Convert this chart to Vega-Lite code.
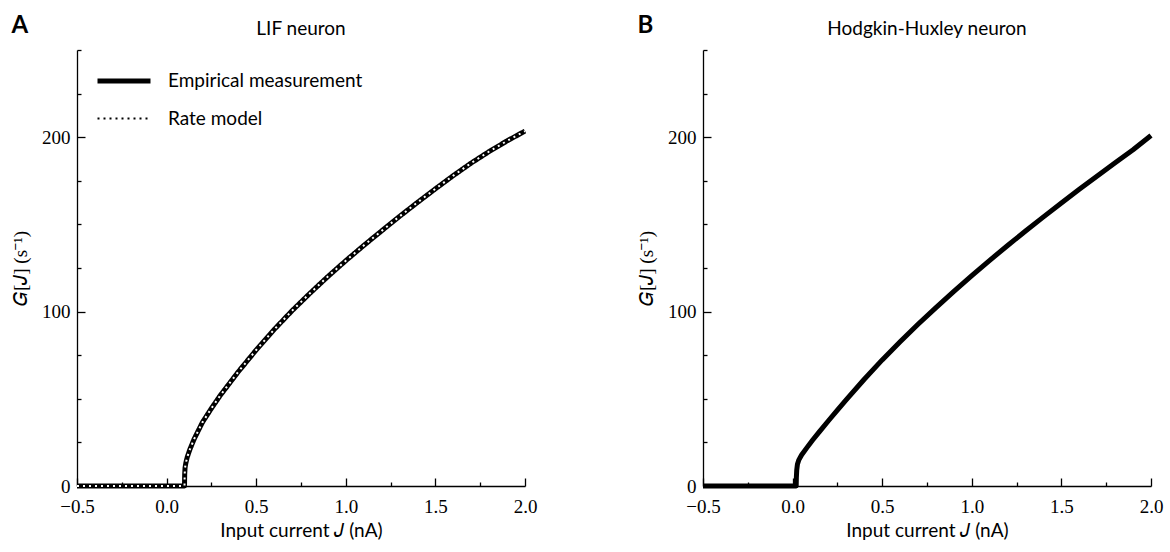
{
  "$schema": "https://vega.github.io/schema/vega-lite/v6.json",
  "background": "white",
  "padding": {"left": 11, "top": 14, "right": 2, "bottom": 2},
  "config": {
    "view": {"stroke": null},
    "axis": {
      "grid": false,
      "domainColor": "black",
      "domainWidth": 1.3,
      "tickColor": "black",
      "tickWidth": 1.3,
      "labelFont": "Liberation Serif",
      "labelFontSize": 19,
      "labelColor": "black",
      "labelFlush": false,
      "labelOverlap": false,
      "labelBound": false,
      "titleFont": "Lato",
      "titleFontSize": 19,
      "titleFontWeight": "normal",
      "titleColor": "black"
    },
    "legend": {"labelFont": "Lato", "labelFontSize": 19, "labelColor": "black", "labelLimit": 0},
    "title": {"font": "Lato", "fontSize": 19, "fontWeight": "normal", "color": "black"}
  },
  "datasets": {
    "lif": [
      {"J": -0.5, "empirical": 0, "rate": 0},
      {"J": 0.1, "empirical": 0, "rate": 0},
      {"J": 0.1003, "empirical": 3, "rate": 3},
      {"J": 0.101, "empirical": 7, "rate": 7},
      {"J": 0.103, "empirical": 10.5, "rate": 10.5},
      {"J": 0.107, "empirical": 13, "rate": 13},
      {"J": 0.115, "empirical": 16.5, "rate": 16.5},
      {"J": 0.13, "empirical": 21, "rate": 21},
      {"J": 0.154, "empirical": 27, "rate": 27},
      {"J": 0.2, "empirical": 36.5, "rate": 36.5},
      {"J": 0.25, "empirical": 44.5, "rate": 44.5},
      {"J": 0.3, "empirical": 52, "rate": 52},
      {"J": 0.4, "empirical": 65.5, "rate": 65.5},
      {"J": 0.5, "empirical": 78, "rate": 78},
      {"J": 0.6, "empirical": 89.7, "rate": 89.7},
      {"J": 0.7, "empirical": 100.5, "rate": 100.5},
      {"J": 0.8, "empirical": 110.5, "rate": 110.5},
      {"J": 0.9, "empirical": 120.1, "rate": 120.1},
      {"J": 1.0, "empirical": 129.2, "rate": 129.2},
      {"J": 1.1, "empirical": 137.9, "rate": 137.9},
      {"J": 1.2, "empirical": 146.3, "rate": 146.3},
      {"J": 1.3, "empirical": 154.6, "rate": 154.6},
      {"J": 1.4, "empirical": 162.6, "rate": 162.6},
      {"J": 1.5, "empirical": 170.4, "rate": 170.4},
      {"J": 1.6, "empirical": 178, "rate": 178},
      {"J": 1.7, "empirical": 185.2, "rate": 185.2},
      {"J": 1.8, "empirical": 191.8, "rate": 191.8},
      {"J": 1.9, "empirical": 197.9, "rate": 197.9},
      {"J": 2.0, "empirical": 203.5, "rate": 203.5}
    ],
    "hh": [
      {"J": -0.5, "G": 0},
      {"J": 0.02, "G": 0},
      {"J": 0.021, "G": 5},
      {"J": 0.023, "G": 9},
      {"J": 0.027, "G": 12.5},
      {"J": 0.035, "G": 15},
      {"J": 0.05, "G": 17.8},
      {"J": 0.08, "G": 22},
      {"J": 0.111, "G": 26.2},
      {"J": 0.15, "G": 31.2},
      {"J": 0.2, "G": 37.4},
      {"J": 0.25, "G": 43.5},
      {"J": 0.3, "G": 49.5},
      {"J": 0.4, "G": 61.2},
      {"J": 0.5, "G": 72.3},
      {"J": 0.6, "G": 82.7},
      {"J": 0.7, "G": 92.7},
      {"J": 0.8, "G": 102.3},
      {"J": 0.9, "G": 111.6},
      {"J": 1.0, "G": 120.6},
      {"J": 1.1, "G": 129.4},
      {"J": 1.2, "G": 137.9},
      {"J": 1.3, "G": 146.2},
      {"J": 1.4, "G": 154.3},
      {"J": 1.5, "G": 162.3},
      {"J": 1.6, "G": 170.1},
      {"J": 1.7, "G": 177.8},
      {"J": 1.8, "G": 185.4},
      {"J": 1.9, "G": 192.8},
      {"J": 2.0, "G": 201}
    ]
  },
  "spacing": 100,
  "hconcat": [
    {
      "title": {"text": "A", "anchor": "start", "frame": "bounds", "font": "Lato", "fontSize": 24, "fontWeight": "bold", "dy": 22},
      "vconcat": [
        {
          "title": {"text": "LIF neuron", "offset": 2},
          "width": 448,
          "height": 436,
          "data": {"name": "lif"},
          "transform": [{"fold": ["empirical", "rate"], "as": ["series", "G"]}],
          "encoding": {
            "x": {
              "field": "J", "type": "quantitative",
              "scale": {"domain": [-0.5, 2], "nice": false, "zero": false},
              "axis": {
                "values": [-0.5, -0.25, 0, 0.25, 0.5, 0.75, 1, 1.25, 1.5, 1.75, 2],
                "tickSize": {"condition": {"test": "abs(datum.value * 2 - round(datum.value * 2)) < 1e-6", "value": -8}, "value": -4},
                "labelExpr": "abs(datum.value * 2 - round(datum.value * 2)) < 1e-6 ? format(datum.value, '.1f') : ''",
                "labelPadding": 19,
                "title": "Input current 𝐽 (nA)",
                "titlePadding": 1
              }
            },
            "y": {
              "field": "G", "type": "quantitative",
              "scale": {"domain": [0, 250], "nice": false},
              "axis": {
                "values": [0, 25, 50, 75, 100, 125, 150, 175, 200, 225, 250],
                "tickSize": {"condition": {"test": "datum.value % 100 === 0", "value": -8}, "value": -4},
                "labelExpr": "datum.value % 100 === 0 ? format(datum.value, 'd') : ''",
                "labelPadding": 15,
                "title": "𝐺[𝐽] (s⁻¹)",
                "titleFont": "Liberation Serif",
                "titlePadding": 11
              }
            }
          },
          "layer": [
            {
              "mark": {"type": "line", "strokeJoin": "round"},
              "encoding": {
                "color": {
                  "field": "series", "type": "nominal",
                  "scale": {"domain": ["empirical", "rate"], "range": ["black", "black"]},
                  "legend": {"title": null, "orient": "none", "legendX": 18, "legendY": 2, "padding": 0, "symbolType": "stroke", "symbolSize": 2809, "labelOffset": 15, "rowPadding": -29, "labelExpr": "datum.value === 'empirical' ? 'Empirical measurement' : 'Rate model'"}
                },
                "strokeDash": {
                  "field": "series", "type": "nominal",
                  "scale": {"domain": ["empirical", "rate"], "range": [[1, 0], [2, 4]]},
                  "legend": {"title": null, "orient": "none", "legendX": 18, "legendY": 2, "padding": 0, "symbolType": "stroke", "symbolSize": 2809, "labelOffset": 15, "rowPadding": -29, "labelExpr": "datum.value === 'empirical' ? 'Empirical measurement' : 'Rate model'"}
                },
                "strokeWidth": {
                  "field": "series", "type": "nominal",
                  "scale": {"type": "ordinal", "domain": ["empirical", "rate"], "range": [5, 1.8]},
                  "legend": {"title": null, "orient": "none", "legendX": 18, "legendY": 2, "padding": 0, "symbolType": "stroke", "symbolSize": 2809, "labelOffset": 15, "rowPadding": -29, "labelExpr": "datum.value === 'empirical' ? 'Empirical measurement' : 'Rate model'"}
                }
              }
            },
            {
              "transform": [{"filter": "datum.series === 'rate'"}],
              "mark": {"type": "line", "color": "white", "strokeWidth": 2, "strokeDash": [2, 4]},
              "encoding": {}
            }
          ]
        }
      ]
    },
    {
      "title": {"text": "B", "anchor": "start", "frame": "bounds", "font": "Lato", "fontSize": 24, "fontWeight": "bold", "dy": 22},
      "vconcat": [
        {
          "title": {"text": "Hodgkin-Huxley neuron", "offset": 2},
          "width": 448,
          "height": 436,
          "data": {"name": "hh"},
          "mark": {"type": "line", "color": "black", "strokeWidth": 5, "strokeJoin": "round"},
          "encoding": {
            "x": {
              "field": "J", "type": "quantitative",
              "scale": {"domain": [-0.5, 2], "nice": false, "zero": false},
              "axis": {
                "values": [-0.5, -0.25, 0, 0.25, 0.5, 0.75, 1, 1.25, 1.5, 1.75, 2],
                "tickSize": {"condition": {"test": "abs(datum.value * 2 - round(datum.value * 2)) < 1e-6", "value": -8}, "value": -4},
                "labelExpr": "abs(datum.value * 2 - round(datum.value * 2)) < 1e-6 ? format(datum.value, '.1f') : ''",
                "labelPadding": 19,
                "title": "Input current 𝐽 (nA)",
                "titlePadding": 1
              }
            },
            "y": {
              "field": "G", "type": "quantitative",
              "scale": {"domain": [0, 250], "nice": false},
              "axis": {
                "values": [0, 25, 50, 75, 100, 125, 150, 175, 200, 225, 250],
                "tickSize": {"condition": {"test": "datum.value % 100 === 0", "value": -8}, "value": -4},
                "labelExpr": "datum.value % 100 === 0 ? format(datum.value, 'd') : ''",
                "labelPadding": 15,
                "title": "𝐺[𝐽] (s⁻¹)",
                "titleFont": "Liberation Serif",
                "titlePadding": 11
              }
            }
          }
        }
      ]
    }
  ]
}
